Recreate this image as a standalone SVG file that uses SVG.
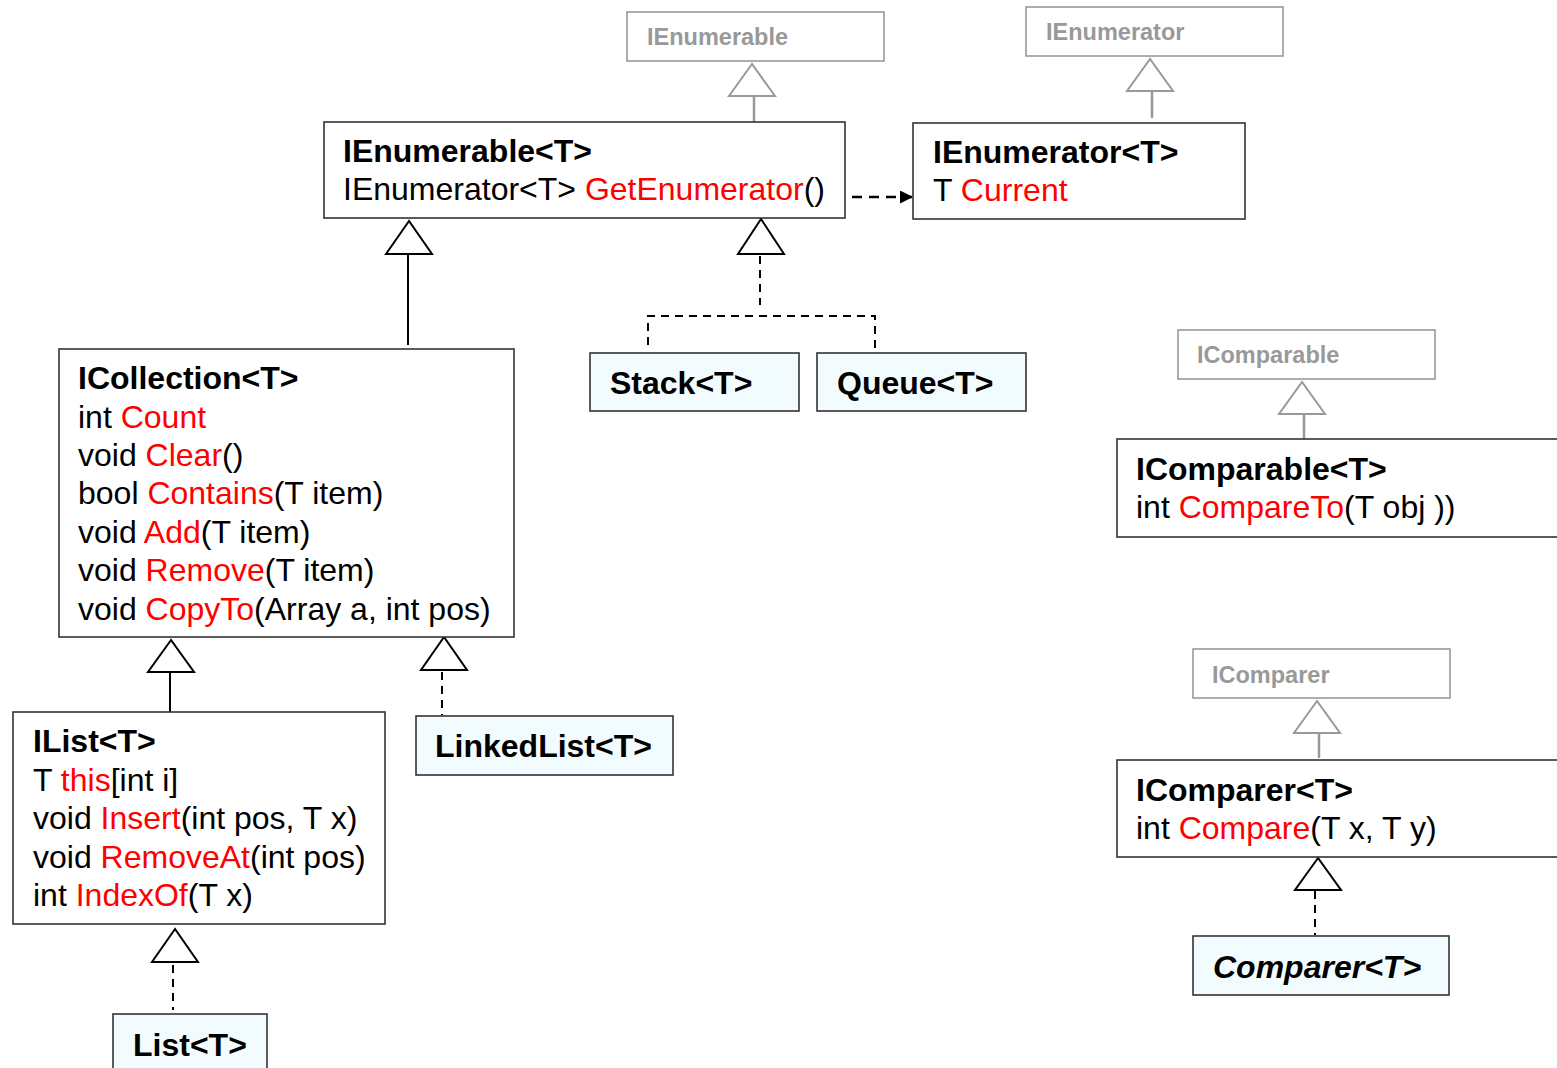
<svg xmlns="http://www.w3.org/2000/svg" width="1557" height="1068" viewBox="0 0 1557 1068">
  <style>
    text { font-family: "Liberation Sans", Arial, sans-serif; font-size: 32px; fill: #000; }
    .t { font-weight: bold; }
    .bi { font-weight: bold; font-style: italic; }
    .r { fill: #ff0000; }
    .g { font-weight: bold; font-size: 23.5px; fill: #999; }
    .box { fill: #fff; stroke: #333; stroke-width: 1.6; }
    .cls { fill: #f2fbfd; stroke: #333; stroke-width: 1.6; }
    .gbox { fill: #fff; stroke: #999; stroke-width: 1.6; }
    .ln { fill: none; stroke: #000; stroke-width: 2; }
    .dash { fill: none; stroke: #000; stroke-width: 2; stroke-dasharray: 8 6; }
    .dep { fill: none; stroke: #000; stroke-width: 2.5; stroke-dasharray: 10 7; }
    .gln { fill: none; stroke: #999; stroke-width: 2.5; }
    .tri { fill: #fff; stroke: #000; stroke-width: 2; }
    .gtri { fill: #fff; stroke: #999; stroke-width: 2; }
  </style>
  <defs>
    <marker id="arrow" markerWidth="13" markerHeight="13" refX="12" refY="6.5" orient="auto" markerUnits="userSpaceOnUse">
      <path d="M0,0 L13,6.5 L0,13 Z" fill="#000"/>
    </marker>
  </defs>

  <!-- connectors -->
  <g id="connectors">
    <!-- IEnumerable<T> -> IEnumerable -->
    <line class="gln" x1="754" y1="96" x2="754" y2="122"/>
    <polygon class="gtri" points="752,64 729,96 775,96"/>
    <!-- IEnumerator<T> -> IEnumerator -->
    <line class="gln" x1="1152" y1="91" x2="1152" y2="118"/>
    <polygon class="gtri" points="1150,59 1127,91 1173,91"/>
    <!-- GetEnumerator returns IEnumerator<T> -->
    <line class="dep" x1="852" y1="197" x2="912" y2="197" marker-end="url(#arrow)"/>
    <!-- ICollection<T> -> IEnumerable<T> -->
    <line class="ln" x1="408" y1="254" x2="408" y2="345"/>
    <polygon class="tri" points="409,221 386,254 432,254"/>
    <!-- Stack/Queue -> IEnumerable<T> -->
    <path class="dash" d="M760,256 V305 M648,345 V316 H875 V350"/>
    <polygon class="tri" points="761,219 738,254 784,254"/>
    <!-- IComparable<T> -> IComparable -->
    <line class="gln" x1="1304" y1="414" x2="1304" y2="439"/>
    <polygon class="gtri" points="1302,382 1279,414 1325,414"/>
    <!-- IComparer<T> -> IComparer -->
    <line class="gln" x1="1319" y1="733" x2="1319" y2="758"/>
    <polygon class="gtri" points="1317,701 1294,733 1340,733"/>
    <!-- Comparer<T> -> IComparer<T> -->
    <line class="dash" x1="1315" y1="891" x2="1315" y2="935"/>
    <polygon class="tri" points="1318,858 1295,890 1341,890"/>
    <!-- IList<T> -> ICollection<T> -->
    <line class="ln" x1="170" y1="672" x2="170" y2="712"/>
    <polygon class="tri" points="171,640 148,672 194,672"/>
    <!-- LinkedList<T> -> ICollection<T> -->
    <line class="dash" x1="442" y1="672" x2="442" y2="715"/>
    <polygon class="tri" points="444,637 421,670 467,670"/>
    <!-- List<T> -> IList<T> -->
    <line class="dash" x1="173" y1="965" x2="173" y2="1010"/>
    <polygon class="tri" points="175,929 152,962 198,962"/>
  </g>

  <g id="IEnumerable">
    <rect class="gbox" x="627" y="12" width="257" height="49"/>
    <text class="g" x="647" y="45">IEnumerable</text>
  </g>

  <g id="IEnumerator">
    <rect class="gbox" x="1026" y="7" width="257" height="49"/>
    <text class="g" x="1046" y="40">IEnumerator</text>
  </g>

  <g id="IEnumerableT">
    <rect class="box" x="324" y="122" width="521" height="96"/>
    <text class="t" x="343" y="162">IEnumerable&lt;T&gt;</text>
    <text x="343" y="200">IEnumerator&lt;T&gt; <tspan class="r">GetEnumerator</tspan>()</text>
  </g>

  <g id="IEnumeratorT">
    <rect class="box" x="913" y="123" width="332" height="96"/>
    <text class="t" x="933" y="163">IEnumerator&lt;T&gt;</text>
    <text x="933" y="201">T <tspan class="r">Current</tspan></text>
  </g>

  <g id="StackT">
    <rect class="cls" x="590" y="353" width="209" height="58"/>
    <text class="t" x="610" y="394">Stack&lt;T&gt;</text>
  </g>

  <g id="QueueT">
    <rect class="cls" x="817" y="353" width="209" height="58"/>
    <text class="t" x="837" y="394">Queue&lt;T&gt;</text>
  </g>

  <g id="ICollectionT">
    <rect class="box" x="59" y="349" width="455" height="288"/>
    <text class="t" x="78" y="389">ICollection&lt;T&gt;</text>
    <text x="78" y="428">int <tspan class="r">Count</tspan></text>
    <text x="78" y="466">void <tspan class="r">Clear</tspan>()</text>
    <text x="78" y="504">bool <tspan class="r">Contains</tspan>(T item)</text>
    <text x="78" y="543">void <tspan class="r">Add</tspan>(T item)</text>
    <text x="78" y="581">void <tspan class="r">Remove</tspan>(T item)</text>
    <text x="78" y="620">void <tspan class="r">CopyTo</tspan>(Array a, int pos)</text>
  </g>

  <g id="IListT">
    <rect class="box" x="13" y="712" width="372" height="212"/>
    <text class="t" x="33" y="752">IList&lt;T&gt;</text>
    <text x="33" y="791">T <tspan class="r">this</tspan>[int i]</text>
    <text x="33" y="829">void <tspan class="r">Insert</tspan>(int pos, T x)</text>
    <text x="33" y="868">void <tspan class="r">RemoveAt</tspan>(int pos)</text>
    <text x="33" y="906">int <tspan class="r">IndexOf</tspan>(T x)</text>
  </g>

  <g id="LinkedListT">
    <rect class="cls" x="416" y="716" width="257" height="59"/>
    <text class="t" x="435" y="757">LinkedList&lt;T&gt;</text>
  </g>

  <g id="ListT">
    <rect class="cls" x="113" y="1014" width="154" height="60"/>
    <text class="t" x="133" y="1056">List&lt;T&gt;</text>
  </g>

  <g id="IComparable">
    <rect class="gbox" x="1178" y="330" width="257" height="49"/>
    <text class="g" x="1197" y="363">IComparable</text>
  </g>

  <g id="IComparableT">
    <rect class="box" x="1117" y="439" width="460" height="98"/>
    <text class="t" x="1136" y="480">IComparable&lt;T&gt;</text>
    <text x="1136" y="518">int <tspan class="r">CompareTo</tspan>(T obj ))</text>
  </g>

  <g id="IComparer">
    <rect class="gbox" x="1193" y="649" width="257" height="49"/>
    <text class="g" x="1212" y="683">IComparer</text>
  </g>

  <g id="IComparerT">
    <rect class="box" x="1117" y="760" width="460" height="97"/>
    <text class="t" x="1136" y="801">IComparer&lt;T&gt;</text>
    <text x="1136" y="839">int <tspan class="r">Compare</tspan>(T x, T y)</text>
  </g>

  <g id="ComparerT">
    <rect class="cls" x="1193" y="936" width="256" height="59"/>
    <text class="bi" x="1213" y="978">Comparer&lt;T&gt;</text>
  </g>
</svg>
